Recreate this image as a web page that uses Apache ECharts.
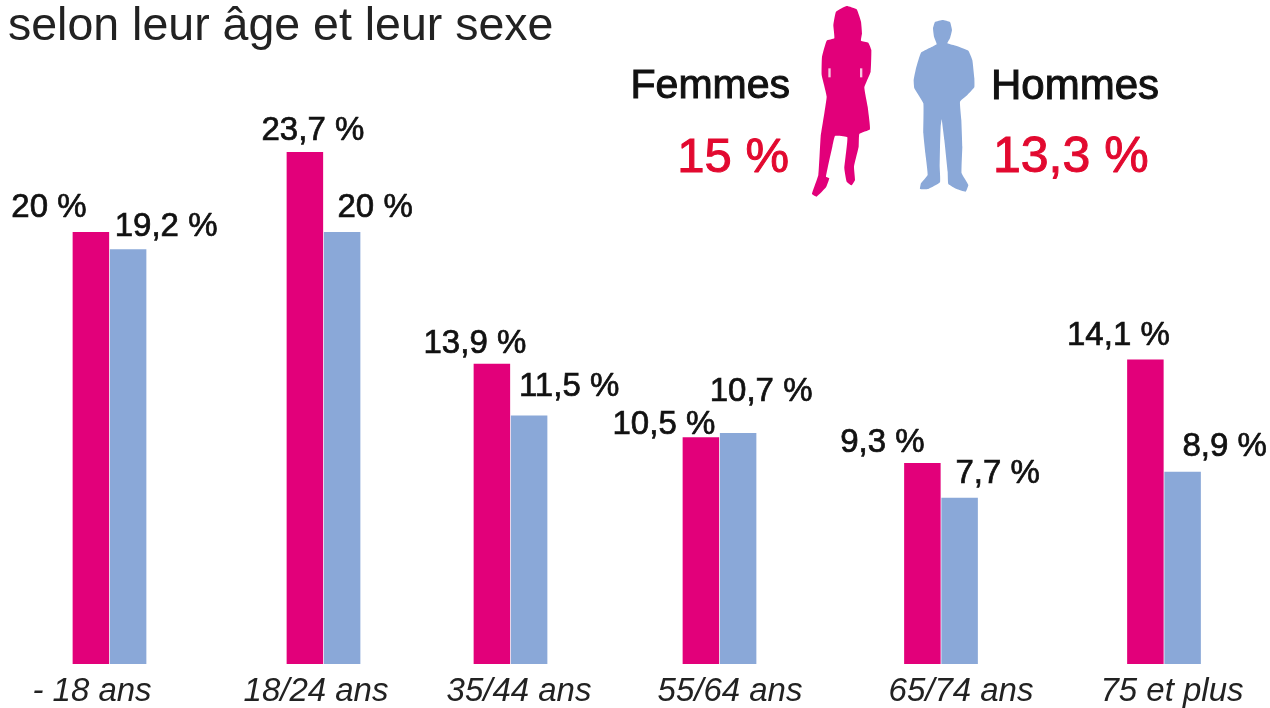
<!DOCTYPE html>
<html><head><meta charset="utf-8">
<style>html,body{margin:0;padding:0;background:#fff}#c{width:1270px;height:708px}</style>
<script src="https://cdn.jsdelivr.net/npm/echarts@6/dist/echarts.min.js"></script>
</head><body><div id="c"></div>
<script>
const titleText = "selon leur âge et leur sexe";
const categories = ["- 18 ans","18/24 ans","35/44 ans","55/64 ans","65/74 ans","75 et plus"];
const femmes = [20,23.7,13.9,10.5,9.3,14.1];
const hommes = [19.2,20,11.5,10.7,7.7,8.9];
const seriesNames = ["Femmes","Hommes"];
const totals = ["15 %","13,3 %"];

// Layout only (pixels)
const groupCentres = [109.5,323.5,510.5,719.5,941,1164];
const catLabelShift = [-17.5,-7.5,8.5,10.5,20,8];
const fOffsets = [[-42,-8],[8,-5],[-17,-3],[-37,4],[-40,-4],[-27,-7]];
const hOffsets = [[38,-6],[33,-8],[40,-12],[23,-24],[38,-7],[42,-8]];
const PINK="#E2007A", BLUE="#8AA8D8", RED="#E2092F";
const womanPts=[[100,75],[108,35],[140,18],[170,28],[183,65],[186,100],[183,122],[205,128],[214,150],[212,215],[193,262],[203,320],[210,388],[178,402],[176,440],[162,500],[165,540],[155,556],[140,545],[133,505],[142,412],[105,408],[97,440],[78,530],[88,535],[78,562],[50,590],[36,582],[55,525],[62,410],[80,290],[65,225],[66,170],[80,122],[103,115]];
const manPts=[[399,85],[405,66],[428,60],[450,66],[456,90],[450,115],[442,130],[470,138],[505,152],[517,180],[523,235],[523,262],[502,285],[480,305],[484,360],[487,440],[485,520],[505,555],[497,575],[470,567],[445,552],[443,515],[433,420],[425,358],[422,380],[420,440],[419,500],[420,547],[385,567],[360,567],[363,550],[383,525],[376,460],[370,400],[370,310],[343,265],[341,240],[348,205],[363,158],[410,133],[402,110]];
const womanSlits=[[[85,205],[92,205],[92,232],[85,232]],[[180,205],[187,205],[187,232],[180,232]]];

const FONT='"Liberation Sans", Arial, sans-serif';
const fmt = v => String(v).replace('.',',')+' %';
const grid=[],xAxis=[],yAxis=[],series=[];
categories.forEach((cat,i)=>{
  grid.push({left:groupCentres[i]-50,width:100,top:124,height:540});
  const s=catLabelShift[i];
  xAxis.push({type:'category',gridIndex:i,data:[cat],axisLine:{show:false},axisTick:{show:false},
    axisLabel:{interval:0,margin:11,fontFamily:FONT,fontStyle:'italic',fontSize:33,color:'#222',
      padding:s<0?[0,-2*s,0,0]:[0,0,0,2*s]}});
  yAxis.push({type:'value',gridIndex:i,min:0,max:25,show:false});
  const mk=(name,val,color,off)=>({type:'bar',name,xAxisIndex:i,yAxisIndex:i,barWidth:36.5,barGap:'2%',
    data:[val],itemStyle:{color},silent:true,animation:false,
    label:{show:true,position:'top',distance:0,offset:off,formatter:p=>fmt(p.value),
      fontFamily:FONT,fontSize:33,color:'#111',textBorderColor:'#111',textBorderWidth:0.7}});
  series.push(mk(seriesNames[0],femmes[i],PINK,fOffsets[i]));
  series.push(mk(seriesNames[1],hommes[i],BLUE,hOffsets[i]));
});
const txt=(text,x,y,size,fill,align)=>({type:'text',x,y,silent:true,style:{text,fontFamily:FONT,fontSize:size,fill,align,verticalAlign:'middle',stroke:fill,lineWidth:1}});
const fig=(pts,fill,smooth)=>({type:'polygon',x:800,y:0,scaleX:1/3,scaleY:1/3,silent:true,shape:{points:pts,smooth},style:{fill}});
const chart=echarts.init(document.getElementById('c'),null,{renderer:'canvas'});
chart.setOption({animation:false,backgroundColor:'#fff',
  title:{text:titleText,left:3,top:-1,textStyle:{fontFamily:FONT,fontSize:46.5,fontWeight:'normal',color:'#222'}},
  grid,xAxis,yAxis,series,
  graphic:[fig(womanPts,PINK,0.1),fig(manPts,BLUE,0.1),
    fig(womanSlits[0],'#F7C6E0',0),fig(womanSlits[1],'#F7C6E0',0),
    txt(seriesNames[0],790,87,41,'#111','right'),
    txt(seriesNames[1],991,87,42,'#111','left'),
    txt(totals[0],789,158,49,RED,'right'),
    txt(totals[1],993,158,50,RED,'left')]
});
</script></body></html>
